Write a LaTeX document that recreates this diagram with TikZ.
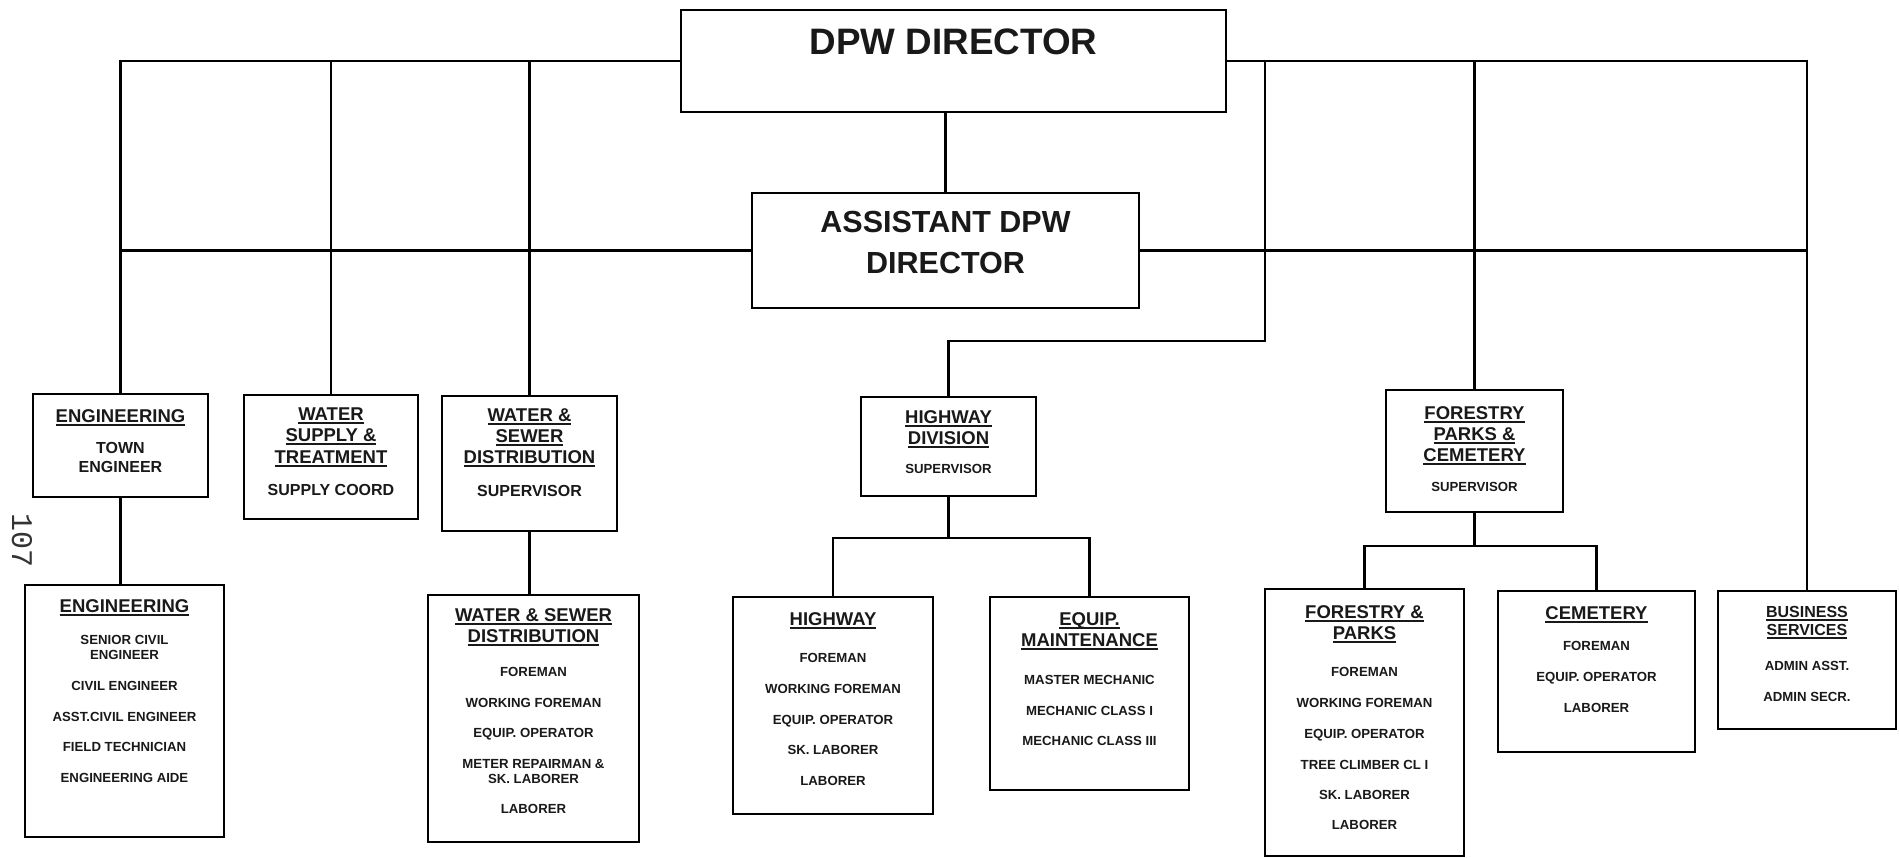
\documentclass[tikz,border=0pt]{standalone}
\usepackage{fontspec}
\setmainfont{Liberation Sans}
\newfontfamily\pagenofont{Liberation Mono}
\usetikzlibrary{calc}

% underlined heading text
\newcommand\ulx[1]{\setbox0=\hbox{#1}\leavevmode\rlap{\rule[-3.6pt]{\wd0}{2pt}}\box0}

\newcounter{lbl}
% one line of text, placed by its baseline
\newcommand\tx[4][]{\stepcounter{lbl}\node[txt,#1] (lbl\thelbl) at (#2,#3) {#4};}
\newcommand\hd[3]{\tx[ttl]{#1}{#2}{\ulx{#3}}}

\tikzset{
  box/.style={draw, line width=2.7pt, rectangle, inner sep=0pt},
  link/.style={line width=2.1pt, line cap=rect},
  txt/.style={anchor=base, inner sep=0pt, text=black!90},
  ttl/.style={font=\fontsize{18.5}{20}\selectfont\bfseries},
  sub/.style={font=\fontsize{16}{18}\selectfont\bfseries},
  itm/.style={font=\fontsize{13.2}{14}\selectfont\bfseries},
}

\begin{document}
\begin{tikzpicture}[x=1pt,y=-1pt]
\useasboundingbox[fill=white] (0,0) rectangle (1899,858);

% ---- boxes ----
\node[box, minimum width=545pt, minimum height=102pt] (dpw)  at (953.5,61)   {};
\node[box, minimum width=387pt, minimum height=115pt] (asst) at (945.5,250.5) {};

\node[box, minimum width=175pt, minimum height=103pt] (eng)  at (120.5,445.5) {};
\node[box, minimum width=174pt, minimum height=124pt] (ws)   at (331,457)     {};
\node[box, minimum width=175pt, minimum height=135pt] (wsd)  at (529.5,463.5) {};
\node[box, minimum width=175pt, minimum height=99pt]  (hwd)  at (948.5,446.5) {};
\node[box, minimum width=177pt, minimum height=122pt] (fpc)  at (1474.5,451)  {};
\node[box, minimum width=178pt, minimum height=138pt] (bus)  at (1807,660)    {};

\node[box, minimum width=199pt, minimum height=252pt] (engl) at (124.5,711)   {};
\node[box, minimum width=211pt, minimum height=247pt] (wsdl) at (533.5,718.5) {};
\node[box, minimum width=200pt, minimum height=217pt] (hw)   at (833,705.5)   {};
\node[box, minimum width=199pt, minimum height=193pt] (eq)   at (1089.5,693.5){};
\node[box, minimum width=199pt, minimum height=267pt] (fp)   at (1364.5,722.5){};
\node[box, minimum width=197pt, minimum height=161pt] (cem)  at (1596.5,671.5){};

% ---- connectors ----
\coordinate (jog) at (1265,341);
\coordinate (hb)  at (948.5,538);
\coordinate (fb)  at (1474.5,546);

\draw[link] (dpw.west) -| (eng.north);
\draw[link] (ws.north |- dpw.west) -- (ws.north);
\draw[link] (wsd.north |- dpw.west) -- (wsd.north);
\draw[link] (dpw.east) -| (bus.north);
\draw[link] (fpc.north |- dpw.east) -- (fpc.north);
\draw[link] (jog |- dpw.east) -- (jog) -| (hwd.north);
\draw[link] (asst.north) -- (asst.north |- dpw.south);
\draw[link] (asst.west) -- (asst.west -| eng.north);
\draw[link] (asst.east) -- (asst.east -| bus.north);

\draw[link] (eng.south) -- (eng.south |- engl.north);
\draw[link] (wsd.south) -- (wsd.south |- wsdl.north);
\draw[link] (hwd.south) -- (hb);
\draw[link] (hw.north) |- (hb) -| (eq.north);
\draw[link] (fpc.south) -- (fb);
\draw[link] (fp.north) |- (fb) -| (cem.north);

% ---- director boxes ----
\tx[font=\fontsize{36.8}{40}\selectfont\bfseries]{953.5}{55}{DPW DIRECTOR}
\tx[font=\fontsize{30.5}{34}\selectfont\bfseries]{945.5}{233}{ASSISTANT DPW}
\tx[font=\fontsize{30.5}{34}\selectfont\bfseries]{945.5}{274}{DIRECTOR}

% ---- division boxes ----
\hd{120.5}{422.6}{ENGINEERING}
\tx[sub]{120.5}{453.7}{TOWN}
\tx[sub]{120.5}{472.7}{ENGINEER}

\hd{331}{420.6}{WATER}
\hd{331}{441.6}{SUPPLY \&}
\hd{331}{463.6}{TREATMENT}
\tx[sub]{331}{495.7}{SUPPLY COORD}

\hd{529.5}{421.6}{WATER \&}
\hd{529.5}{442.6}{SEWER}
\hd{529.5}{463.6}{DISTRIBUTION}
\tx[sub]{529.5}{496.7}{SUPERVISOR}

\hd{948.5}{423.6}{HIGHWAY}
\hd{948.5}{444.6}{DIVISION}
\tx[itm]{948.5}{473.7}{SUPERVISOR}

\hd{1474.5}{419.6}{FORESTRY}
\hd{1474.5}{440.6}{PARKS \&}
\hd{1474.5}{461.6}{CEMETERY}
\tx[itm]{1474.5}{491.7}{SUPERVISOR}

% ---- section boxes ----
\hd{124.5}{612.6}{ENGINEERING}
\tx[itm]{124.5}{644.7}{SENIOR CIVIL}
\tx[itm]{124.5}{659.7}{ENGINEER}
\tx[itm]{124.5}{690.7}{CIVIL ENGINEER}
\tx[itm]{124.5}{721.7}{ASST.CIVIL ENGINEER}
\tx[itm]{124.5}{751.7}{FIELD TECHNICIAN}
\tx[itm]{124.5}{782.7}{ENGINEERING AIDE}

\hd{533.5}{621.6}{WATER \& SEWER}
\hd{533.5}{642.6}{DISTRIBUTION}
\tx[itm]{533.5}{676.7}{FOREMAN}
\tx[itm]{533.5}{707.7}{WORKING FOREMAN}
\tx[itm]{533.5}{737.7}{EQUIP. OPERATOR}
\tx[itm]{533.5}{768.7}{METER REPAIRMAN \&}
\tx[itm]{533.5}{783.7}{SK. LABORER}
\tx[itm]{533.5}{813.7}{LABORER}

\hd{833}{625.6}{HIGHWAY}
\tx[itm]{833}{662.7}{FOREMAN}
\tx[itm]{833}{693.7}{WORKING FOREMAN}
\tx[itm]{833}{724.7}{EQUIP. OPERATOR}
\tx[itm]{833}{754.7}{SK. LABORER}
\tx[itm]{833}{785.7}{LABORER}

\hd{1089.5}{625.6}{EQUIP.}
\hd{1089.5}{646.6}{MAINTENANCE}
\tx[itm]{1089.5}{684.7}{MASTER MECHANIC}
\tx[itm]{1089.5}{715.7}{MECHANIC CLASS I}
\tx[itm]{1089.5}{745.7}{MECHANIC CLASS III}

\hd{1364.5}{618.6}{FORESTRY \&}
\hd{1364.5}{639.6}{PARKS}
\tx[itm]{1364.5}{676.7}{FOREMAN}
\tx[itm]{1364.5}{707.7}{WORKING FOREMAN}
\tx[itm]{1364.5}{738.7}{EQUIP. OPERATOR}
\tx[itm]{1364.5}{769.7}{TREE CLIMBER CL I}
\tx[itm]{1364.5}{799.7}{SK. LABORER}
\tx[itm]{1364.5}{829.7}{LABORER}

\hd{1596.5}{619.6}{CEMETERY}
\tx[itm]{1596.5}{650.7}{FOREMAN}
\tx[itm]{1596.5}{681.7}{EQUIP. OPERATOR}
\tx[itm]{1596.5}{712.7}{LABORER}

\tx[font=\fontsize{16}{18}\selectfont\bfseries]{1807}{617.7}{\ulx{BUSINESS}}
\tx[font=\fontsize{16}{18}\selectfont\bfseries]{1807}{635.7}{\ulx{SERVICES}}
\tx[itm]{1807}{670.7}{ADMIN ASST.}
\tx[itm]{1807}{701.7}{ADMIN SECR.}

% ---- page number along the left margin ----
\node[inner sep=0pt, rotate=-90, font=\pagenofont\fontsize{30}{32}\selectfont, text=black!80] (pageno) at (22,541) {107};
\end{tikzpicture}
\end{document}
